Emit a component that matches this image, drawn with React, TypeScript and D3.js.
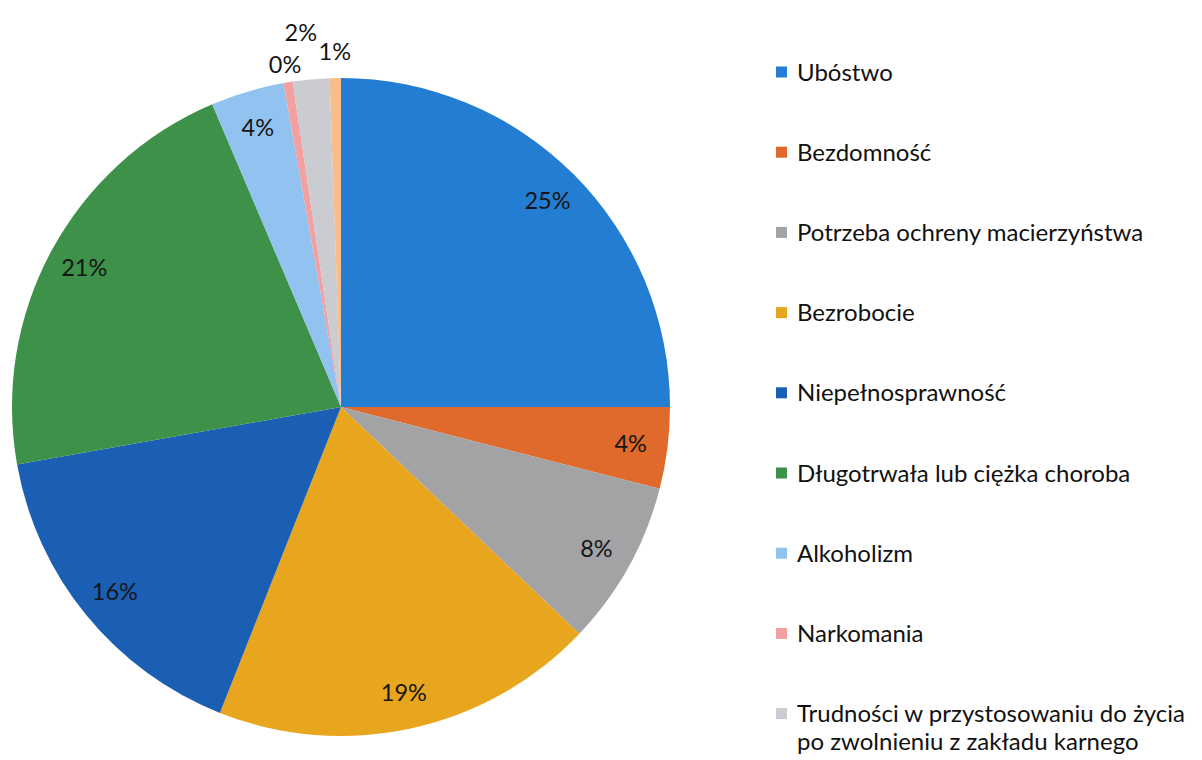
import * as React from 'react';
import * as d3 from 'd3';

const categories = [
  'Ubóstwo',
  'Bezdomność',
  'Potrzeba ochreny macierzyństwa',
  'Bezrobocie',
  'Niepełnosprawność',
  'Długotrwała lub ciężka choroba',
  'Alkoholizm',
  'Narkomania',
  'Trudności w przystosowaniu do życia\npo zwolnieniu z zakładu karnego',
  'Inne',
];
const shares = [25, 4.0, 8.1, 18.9, 16.2, 21.4, 3.6, 0.45, 1.8, 0.55];
const colors = ['#237dd2', '#e06a2c', '#a3a3a6', '#e8a51e', '#1b5fb5', '#3d9148', '#92c2f0', '#f3a0a0', '#cbcbd2', '#f8be8a'];
const legendCount = 9;

// small slices get their labels pushed outside
const outsideLabel: Record<number, {r: number; dx: number}> = {
  7: {r: 347, dx: 0},
  8: {r: 376, dx: -6},
  9: {r: 356, dx: 0},
};

export default function App() {
  const ref = React.useRef<SVGSVGElement>(null);

  React.useEffect(() => {
    const width = 1202;
    const height = 760;
    const cx = 341;
    const cy = 407;
    const radius = 329;

    const svg = d3.select(ref.current);
    svg.selectAll('*').remove();
    svg.attr('width', width).attr('height', height);

    const g = svg.append('g').attr('transform', `translate(${cx},${cy})`);
    const pie = d3.pie<number>().sort(null).value(d => d);
    const arc = d3.arc<d3.PieArcDatum<number>>().innerRadius(0).outerRadius(radius);
    const arcs = pie(shares);
    const total = d3.sum(shares);

    g.selectAll('path').data(arcs)
      .enter().append('path')
      .attr('d', arc)
      .attr('fill', (d, i) => colors[i]);

    g.selectAll('.lbl').data(arcs)
      .enter().append('text')
      .attr('class', 'lbl')
      .attr('transform', (d, i) => {
        const a = (d.startAngle + d.endAngle) / 2;
        const o = outsideLabel[i];
        const r = o ? o.r : 292;
        const dx = o ? o.dx : 0;
        return `translate(${Math.sin(a) * r + dx},${-Math.cos(a) * r})`;
      })
      .attr('text-anchor', 'middle')
      .attr('dy', '0.36em')
      .attr('font-family', 'Lato, sans-serif')
      .attr('font-size', 23.5)
      .attr('fill', '#151515')
      .text(d => `${Math.round((d.value / total) * 100)}%`);

    const legend = svg.append('g').attr('transform', 'translate(776,72)');
    const item = legend.selectAll('.legend').data(categories.slice(0, legendCount))
      .enter().append('g')
      .attr('class', 'legend')
      .attr('transform', (d, i) => `translate(0,${i * 80.2})`);

    item.append('rect')
      .attr('x', 0)
      .attr('y', -5.5)
      .attr('width', 11)
      .attr('height', 11)
      .attr('fill', (d, i) => colors[i]);

    item.append('text')
      .attr('x', 21)
      .attr('font-family', 'Lato, sans-serif')
      .attr('font-size', 24)
      .attr('fill', '#111')
      .selectAll('tspan').data(d => d.split('\n'))
      .enter().append('tspan')
      .attr('x', 21)
      .attr('dy', (d, i) => (i === 0 ? '0.36em' : '1.15em'))
      .text(d => d);
  }, []);

  return (
    <svg ref={ref} style={{position: 'absolute', left: 0, top: 0, background: '#fff'}}></svg>
  );
}
